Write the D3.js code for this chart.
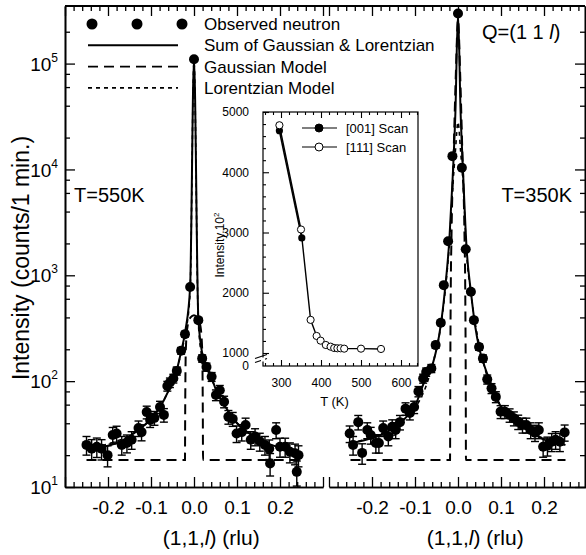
<!DOCTYPE html>
<html>
<head>
<meta charset="utf-8">
<script src="https://cdn.jsdelivr.net/npm/d3@7"></script>
<style>
  body { margin: 0; background: #fff; }
  svg { font-family: "Liberation Sans", Arial, sans-serif; }
</style>
</head>
<body>
<script>
// observed neutron counts: [l (rlu), counts / 1 min, error]
const obs550 = [
  [-0.250, 25, 5], [-0.238, 23, 5], [-0.226, 24, 5], [-0.215, 23, 5], [-0.201, 20, 4.5],
  [-0.189, 31, 5.5], [-0.180, 32, 5.5], [-0.168, 25, 5], [-0.156, 26, 5], [-0.145, 28, 5.3],
  [-0.129, 36, 6], [-0.122, 33, 5.7], [-0.110, 51, 7], [-0.102, 43, 6.5], [-0.092, 45, 6.7],
  [-0.079, 57, 7.5], [-0.070, 48, 7], [-0.062, 90, 9.5], [-0.056, 97, 10], [-0.048, 106, 10],
  [-0.040, 125, 11], [-0.030, 194, 14], [-0.021, 278, 17], [-0.009, 774, 28], [0.000, 110000, 330],
  [0.010, 377, 19], [0.019, 164, 13], [0.029, 136, 12], [0.041, 110, 10.5], [0.051, 74, 8.6],
  [0.060, 82, 9], [0.070, 64, 8], [0.080, 46, 6.8], [0.090, 44, 6.6], [0.099, 32, 5.7],
  [0.111, 33, 5.8], [0.120, 38.5, 6.2], [0.132, 28, 5.3], [0.142, 30, 5.5], [0.153, 27, 5.2],
  [0.165, 25, 5], [0.175, 23, 4.8], [0.177, 16.7, 4], [0.191, 34.5, 5.9], [0.200, 24, 4.9],
  [0.212, 24, 4.9], [0.223, 21.5, 4.6], [0.235, 20.8, 4.6], [0.243, 20, 4.5], [0.239, 13.9, 3.7]
];
const obs350 = [
  [-0.252, 32, 5.7], [-0.244, 25, 5], [-0.232, 41, 6.4], [-0.223, 21, 4.6], [-0.211, 34.5, 5.9],
  [-0.203, 31, 5.6], [-0.191, 26, 5.1], [-0.184, 26, 5.1], [-0.174, 36, 6], [-0.162, 30, 5.5],
  [-0.153, 37, 6.1], [-0.145, 34.5, 5.9], [-0.135, 41, 6.4], [-0.122, 55, 7.4], [-0.112, 50, 7],
  [-0.102, 57, 7.6], [-0.092, 80, 8.9], [-0.081, 106, 10.3], [-0.074, 122, 11], [-0.062, 132, 11.5],
  [-0.052, 219, 14.8], [-0.040, 356, 18.9], [-0.033, 807, 28], [-0.023, 2100, 46], [-0.013, 13360, 115],
  [0.000, 297000, 545], [0.009, 10360, 100], [0.018, 1760, 42], [0.030, 698, 26], [0.037, 377, 19],
  [0.049, 210, 14.5], [0.058, 164, 12.8], [0.068, 104, 10.2], [0.078, 85.5, 9.2], [0.088, 71, 8.4],
  [0.099, 51.5, 7.2], [0.109, 51.5, 7.2], [0.120, 47.8, 6.9], [0.130, 44.5, 6.7], [0.140, 41.3, 6.4],
  [0.150, 38.5, 6.2], [0.159, 38.5, 6.2], [0.169, 34.5, 5.9], [0.179, 32.6, 5.7], [0.188, 34.5, 5.9],
  [0.198, 24, 4.9], [0.208, 24.6, 5], [0.218, 26.8, 5.2], [0.227, 28, 5.3], [0.237, 26.8, 5.2],
  [0.248, 32.8, 5.7]
];

// fitted curves: [l, counts]
const sum550 = [
  [-0.25, 23], [-0.22, 23.5], [-0.20, 24.5], [-0.18, 26], [-0.16, 28.5], [-0.14, 32], [-0.12, 37],
  [-0.10, 44], [-0.08, 56], [-0.06, 80], [-0.05, 100], [-0.04, 128], [-0.03, 190], [-0.02, 300],
  [-0.009, 780], [0, 110000], [0.01, 400], [0.02, 175], [0.03, 135], [0.04, 110], [0.05, 85],
  [0.06, 70], [0.08, 52], [0.10, 40], [0.12, 34], [0.14, 30], [0.16, 27], [0.18, 25], [0.20, 23.5],
  [0.22, 22.5], [0.25, 21]
];
const gauss550 = [
  [-0.25, 18], [-0.021, 18], [-0.0205, 50], [-0.019, 200], [-0.015, 330], [-0.008, 400], [0, 420],
  [0.008, 400], [0.015, 330], [0.019, 200], [0.0205, 50], [0.021, 18], [0.25, 18]
];
const lor550 = [
  [-0.25, 23], [-0.12, 37], [-0.06, 80], [-0.04, 128], [-0.03, 185], [-0.02, 280], [-0.009, 700],
  [0, 105000], [0.01, 360], [0.02, 160], [0.03, 132], [0.06, 70], [0.12, 34], [0.25, 21]
];
const sum350 = [
  [-0.25, 26], [-0.22, 27.5], [-0.20, 29], [-0.18, 31], [-0.16, 34], [-0.14, 38], [-0.12, 46],
  [-0.10, 58], [-0.08, 95], [-0.06, 140], [-0.05, 200], [-0.04, 340], [-0.03, 750], [-0.02, 2200],
  [-0.012, 9000], [-0.006, 35000], [0, 300000], [0.006, 35000], [0.012, 9000], [0.02, 1800],
  [0.03, 700], [0.04, 330], [0.05, 200], [0.06, 145], [0.08, 88], [0.10, 57], [0.12, 47], [0.14, 40],
  [0.16, 35], [0.18, 31], [0.20, 28], [0.22, 26.5], [0.25, 25]
];
const gauss350 = [
  [-0.25, 18], [-0.0185, 18], [-0.018, 100], [-0.017, 600], [-0.015, 2500], [-0.01, 15000],
  [-0.005, 80000], [0, 260000], [0.005, 80000], [0.01, 15000], [0.015, 2500], [0.017, 600],
  [0.018, 100], [0.0185, 18], [0.25, 18]
];
const lor350 = [
  [-0.25, 26], [-0.12, 46], [-0.06, 140], [-0.04, 330], [-0.03, 700], [-0.02, 2000], [-0.012, 7000],
  [-0.006, 15000], [0, 28000], [0.006, 15000], [0.012, 7000], [0.02, 1600], [0.03, 680],
  [0.06, 145], [0.12, 47], [0.25, 25]
];

// inset: peak intensity (x10^2) vs temperature
const scan001 = [[296, 4690], [352, 2910]];
const scan111 = [
  [296, 4780], [350, 3050], [374, 1550], [389, 1283], [399, 1205], [412, 1133], [424, 1105],
  [433, 1083], [441, 1078], [449, 1078], [458, 1072], [500, 1072], [550, 1067]
];

// tick values
const xMajor = [-0.3, -0.2, -0.1, 0, 0.1, 0.2, 0.3];
const xLabelled = [-0.2, -0.1, 0, 0.1, 0.2];
const xMinor = d3.range(-30, 31, 2).filter(d => d % 10 !== 0).map(d => d / 100);
const yDecades = [1e1, 1e2, 1e3, 1e4, 1e5];
const yMinor = [];
[1e1, 1e2, 1e3, 1e4, 1e5].forEach(d => [2, 4, 6, 8].forEach(m => yMinor.push(d * m)));
const insetXMajor = [300, 400, 500, 600];
const insetXMinor = d3.range(260, 641, 20).filter(d => d % 100 !== 0);
const insetYMajor = [1000, 2000, 3000, 4000, 5000];
const insetYMinor = d3.range(1200, 5000, 200).filter(d => d % 1000 !== 0);

const width = 586, height = 555;
const svg = d3.select('body').append('svg')
  .attr('width', width)
  .attr('height', height);

const y = d3.scaleLog().domain([10, 3.5e5]).range([487, 6]);
const panels = [
  { x: d3.scaleLinear().domain([-0.3, 0.3]).range([65, 323]), obs: obs550, sum: sum550, gauss: gauss550, lor: lor550 },
  { x: d3.scaleLinear().domain([-0.3, 0.3]).range([329, 587]), obs: obs350, sum: sum350, gauss: gauss350, lor: lor350 }
];
const yBottom = y.range()[0], yTop = y.range()[1];

function styleAxis(g) {
  g.select('.domain').attr('stroke-width', 1.6);
  g.selectAll('.tick line').attr('stroke-width', 1.3);
}

// panel axes
panels.forEach(p => {
  svg.append('g').attr('transform', `translate(0,${yBottom})`)
    .call(d3.axisBottom(p.x).tickValues(xMinor).tickSize(-5).tickSizeOuter(0).tickFormat(''))
    .call(styleAxis);
  svg.append('g').attr('transform', `translate(0,${yBottom})`)
    .call(d3.axisBottom(p.x).tickValues(xMajor).tickSize(-10).tickSizeOuter(0).tickPadding(14)
      .tickFormat(d => xLabelled.includes(d) ? d.toFixed(1) : ''))
    .call(styleAxis)
    .selectAll('text').attr('font-size', 19).attr('fill', '#000');
  svg.append('g').attr('transform', `translate(0,${yTop})`)
    .call(d3.axisTop(p.x).tickValues(xMinor).tickSize(-5).tickSizeOuter(0).tickFormat(''))
    .call(g => g.select('.domain').remove())
    .call(styleAxis);
  svg.append('g').attr('transform', `translate(0,${yTop})`)
    .call(d3.axisTop(p.x).tickValues(xMajor).tickSize(-10).tickSizeOuter(0).tickFormat(''))
    .call(g => g.select('.domain').remove())
    .call(styleAxis);

  // x axis title
  const t = svg.append('text')
    .attr('x', p.x(0.04))
    .attr('y', 545)
    .attr('text-anchor', 'middle')
    .attr('font-size', 21);
  t.append('tspan').text('(1,1,');
  t.append('tspan').attr('font-style', 'italic').text('l');
  t.append('tspan').text(') (rlu)');
});

// continuous top frame line
svg.append('line')
  .attr('x1', panels[0].x.range()[0]).attr('x2', 585)
  .attr('y1', yTop).attr('y2', yTop)
  .attr('stroke', '#000').attr('stroke-width', 1.8);

// left y axis
const leftX = panels[0].x.range()[0];
svg.append('g').attr('transform', `translate(${leftX},0)`)
  .call(d3.axisLeft(y).tickValues(yMinor.filter(d => d < 3.5e5)).tickSize(-5).tickSizeOuter(0).tickFormat(''))
  .call(styleAxis);
const yAxisG = svg.append('g').attr('transform', `translate(${leftX},0)`)
  .call(d3.axisLeft(y).tickValues(yDecades).tickSize(-10).tickSizeOuter(0).tickPadding(7).tickFormat(''))
  .call(styleAxis);
yAxisG.selectAll('.tick text')
  .attr('font-size', 19)
  .attr('fill', '#000')
  .attr('dy', '0.35em')
  .each(function (d) {
    const t = d3.select(this);
    t.append('tspan').text('10');
    t.append('tspan').attr('font-size', 12).attr('dy', '-0.75em').text(Math.round(Math.log10(d)));
  });

// right y axis
svg.append('g').attr('transform', 'translate(585,0)')
  .call(d3.axisRight(y).tickValues(yMinor.filter(d => d < 3.5e5)).tickSize(-5).tickSizeOuter(0).tickFormat(''))
  .call(styleAxis);
svg.append('g').attr('transform', 'translate(585,0)')
  .call(d3.axisRight(y).tickValues(yDecades).tickSize(-10).tickSizeOuter(0).tickFormat(''))
  .call(styleAxis);

svg.append('text')
  .attr('transform', 'translate(29,258) rotate(-90)')
  .attr('text-anchor', 'middle')
  .attr('font-size', 23)
  .text('Intensity (counts/1 min.)');

// curves, error bars, points
panels.forEach(p => {
  const line = d3.line()
    .x(d => p.x(d[0]))
    .y(d => y(d[1]))
    .curve(d3.curveMonotoneX);

  svg.append('path').datum(p.gauss)
    .attr('d', line).attr('fill', 'none')
    .attr('stroke', '#000').attr('stroke-width', 2).attr('stroke-dasharray', '10,6');
  svg.append('path').datum(p.lor)
    .attr('d', line).attr('fill', 'none')
    .attr('stroke', '#000').attr('stroke-width', 1.6).attr('stroke-dasharray', '4,4');
  svg.append('path').datum(p.sum)
    .attr('d', line).attr('fill', 'none')
    .attr('stroke', '#000').attr('stroke-width', 2);

  const err = svg.append('g').attr('stroke', '#000').attr('stroke-width', 1.4);
  err.selectAll('line.bar').data(p.obs).enter().append('line')
    .attr('class', 'bar')
    .attr('x1', d => p.x(d[0])).attr('x2', d => p.x(d[0]))
    .attr('y1', d => y(d[1] - d[2])).attr('y2', d => y(d[1] + d[2]));
  err.selectAll('line.capHi').data(p.obs).enter().append('line')
    .attr('class', 'capHi')
    .attr('x1', d => p.x(d[0]) - 4).attr('x2', d => p.x(d[0]) + 4)
    .attr('y1', d => y(d[1] + d[2])).attr('y2', d => y(d[1] + d[2]));
  err.selectAll('line.capLo').data(p.obs).enter().append('line')
    .attr('class', 'capLo')
    .attr('x1', d => p.x(d[0]) - 4).attr('x2', d => p.x(d[0]) + 4)
    .attr('y1', d => y(d[1] - d[2])).attr('y2', d => y(d[1] - d[2]));

  svg.append('g').selectAll('circle').data(p.obs).enter().append('circle')
    .attr('cx', d => p.x(d[0]))
    .attr('cy', d => y(d[1]))
    .attr('r', 5)
    .attr('fill', '#000');
});

// legend
const legendRows = ['Observed neutron', 'Sum of Gaussian & Lorentzian', 'Gaussian Model', 'Lorentzian Model'];
const legendDash = [null, null, '10,6', '4,4'];
const legend = svg.append('g');
legendRows.forEach((label, i) => {
  const ly = 24 + i * 21.3;
  if (i === 0) {
    [92, 137, 182].forEach(cx => legend.append('circle').attr('cx', cx).attr('cy', ly).attr('r', 5.5).attr('fill', '#000'));
  } else {
    legend.append('line')
      .attr('x1', 88).attr('x2', 178).attr('y1', ly).attr('y2', ly)
      .attr('stroke', '#000').attr('stroke-width', i === 1 ? 2 : 1.8)
      .attr('stroke-dasharray', legendDash[i]);
  }
  legend.append('text')
    .attr('x', 204).attr('y', ly).attr('dy', '0.36em')
    .attr('font-size', 17)
    .text(label);
});

// annotations
const q = svg.append('text').attr('x', 482).attr('y', 39).attr('font-size', 20);
q.append('tspan').text('Q=(1 1 ');
q.append('tspan').attr('font-style', 'italic').text('l');
q.append('tspan').text(')');
svg.append('text').attr('x', 74).attr('y', 202).attr('font-size', 20).text('T=550K');
svg.append('text').attr('x', 572).attr('y', 202).attr('text-anchor', 'end').attr('font-size', 20).text('T=350K');

// inset
const xIn = d3.scaleLinear().domain([255, 642.5]).range([263, 418]);
const yIn = d3.scaleLinear().domain([0, 1000, 5000]).range([366, 353, 112]);
const inset = svg.append('g');
inset.append('rect')
  .attr('x', xIn.range()[0]).attr('y', yIn(5000))
  .attr('width', xIn.range()[1] - xIn.range()[0])
  .attr('height', yIn(0) - yIn(5000))
  .attr('fill', '#fff').attr('stroke', '#000').attr('stroke-width', 1.2);

function thinAxis(g) {
  g.select('.domain').remove();
  g.selectAll('.tick line').attr('stroke-width', 1.1);
  g.selectAll('.tick text').attr('font-size', 12).attr('fill', '#000');
}
inset.append('g').attr('transform', `translate(0,${yIn(0)})`)
  .call(d3.axisBottom(xIn).tickValues(insetXMinor).tickSize(-3).tickFormat(''))
  .call(thinAxis);
inset.append('g').attr('transform', `translate(0,${yIn(0)})`)
  .call(d3.axisBottom(xIn).tickValues(insetXMajor).tickSize(-6).tickPadding(12).tickFormat(d3.format('d')))
  .call(thinAxis);
inset.append('g').attr('transform', `translate(0,${yIn(5000)})`)
  .call(d3.axisTop(xIn).tickValues(insetXMinor).tickSize(-3).tickFormat(''))
  .call(thinAxis);
inset.append('g').attr('transform', `translate(0,${yIn(5000)})`)
  .call(d3.axisTop(xIn).tickValues(insetXMajor).tickSize(-6).tickFormat(''))
  .call(thinAxis);
inset.append('g').attr('transform', `translate(${xIn.range()[0]},0)`)
  .call(d3.axisLeft(yIn).tickValues(insetYMinor).tickSize(-3).tickFormat(''))
  .call(thinAxis);
inset.append('g').attr('transform', `translate(${xIn.range()[0]},0)`)
  .call(d3.axisLeft(yIn).tickValues(insetYMajor.concat([0])).tickSize(-6).tickPadding(14).tickFormat(d3.format('d')))
  .call(thinAxis)
  .call(g => g.selectAll('.tick line').filter(d => d === 0).remove());

// axis break on the inset y axis
const brk = inset.append('g').attr('stroke', '#000').attr('stroke-width', 1.3);
inset.append('rect').attr('x', xIn.range()[0] - 2).attr('y', yIn(500) - 2).attr('width', 4).attr('height', 4).attr('fill', '#fff');
brk.append('line').attr('x1', xIn.range()[0] - 8).attr('x2', xIn.range()[0] + 4).attr('y1', yIn(500) - 1).attr('y2', yIn(500) - 5);
brk.append('line').attr('x1', xIn.range()[0] - 8).attr('x2', xIn.range()[0] + 4).attr('y1', yIn(500) + 3).attr('y2', yIn(500) - 1);

const lineIn = d3.line().x(d => xIn(d[0])).y(d => yIn(d[1]));
inset.append('path').datum(scan001).attr('d', lineIn)
  .attr('fill', 'none').attr('stroke', '#000').attr('stroke-width', 1.6);
inset.append('path').datum(scan111).attr('d', lineIn)
  .attr('fill', 'none').attr('stroke', '#000').attr('stroke-width', 1.4);
inset.append('g').selectAll('circle').data(scan001).enter().append('circle')
  .attr('cx', d => xIn(d[0])).attr('cy', d => yIn(d[1])).attr('r', 3.6)
  .attr('fill', '#000');
inset.append('g').selectAll('circle').data(scan111).enter().append('circle')
  .attr('cx', d => xIn(d[0])).attr('cy', d => yIn(d[1])).attr('r', 3.6)
  .attr('fill', '#fff').attr('stroke', '#000').attr('stroke-width', 1);

// inset legend
const insetLegend = [['[001] Scan', '#000'], ['[111] Scan', '#fff']];
insetLegend.forEach((row, i) => {
  const ly = 128 + i * 19;
  inset.append('line').attr('x1', 302).attr('x2', 337).attr('y1', ly).attr('y2', ly)
    .attr('stroke', '#000').attr('stroke-width', 1.2);
  inset.append('circle').attr('cx', 319).attr('cy', ly).attr('r', 4)
    .attr('fill', row[1]).attr('stroke', '#000').attr('stroke-width', 1);
  inset.append('text').attr('x', 346).attr('y', ly).attr('dy', '0.36em')
    .attr('font-size', 13).text(row[0]);
});

inset.append('text')
  .attr('x', (xIn.range()[0] + xIn.range()[1]) / 2 - 6)
  .attr('y', 406)
  .attr('text-anchor', 'middle')
  .attr('font-size', 13)
  .text('T (K)');
const yl = inset.append('text')
  .attr('transform', 'translate(224,245) rotate(-90)')
  .attr('text-anchor', 'middle')
  .attr('font-size', 12);
yl.append('tspan').text('Intensity.10');
yl.append('tspan').attr('font-size', 8).attr('dy', '-0.6em').text('2');
</script>
</body>
</html>
